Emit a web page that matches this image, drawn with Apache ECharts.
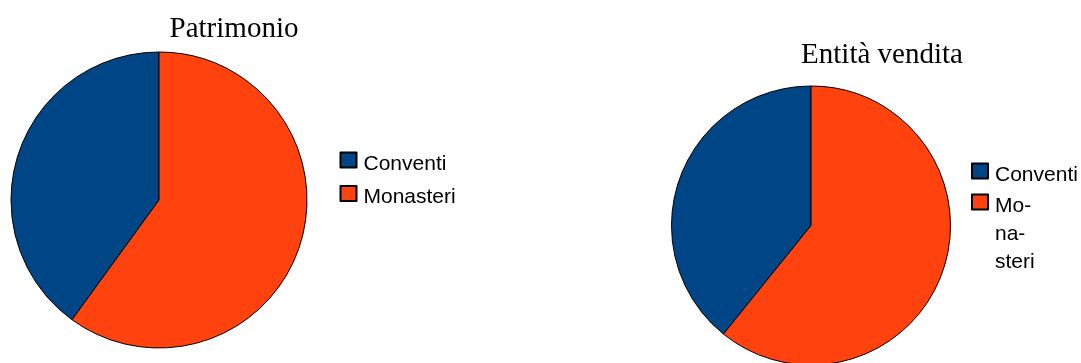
<!DOCTYPE html>
<html>
<head>
<meta charset="utf-8">
<script src="https://cdn.jsdelivr.net/npm/echarts@6/dist/echarts.min.js"></script>
<style>
  html, body { margin: 0; padding: 0; background: #ffffff; }
  #chart { width: 1081px; height: 363px; }
</style>
</head>
<body>
<div id="chart"></div>
<script>
// Categories shared by both pies
const categories = ['Conventi', 'Monasteri'];
// Share of property (left pie) and share of sales (right pie), in percent
const patrimonioValues = [40, 60];
const venditaValues = [39.2, 60.8];
const titles = ['Patrimonio', 'Entità vendita'];
const colors = ['#004586', '#ff420e'];

const chart = echarts.init(document.getElementById('chart'), null, { renderer: 'canvas' });

function pieData(values) {
  return categories.map((name, i) => ({ name: name, value: values[i] }));
}

const titleStyle = { fontFamily: 'Liberation Serif', fontSize: 29, fontWeight: 'normal', color: '#000000' };
const legendText = { fontFamily: 'Liberation Sans', fontSize: 21, color: '#000000' };

// Legend swatch: a 16x15 square in the top-left of an 18x23 item box, so the
// label sits a little below the square's centre and a little further right.
const swatch = 'path://M0,0H16V15H0ZM18,23';
const swatchBox = { itemWidth: 18, itemHeight: 23, icon: swatch, symbolKeepAspect: false };
const wrapLine = 28;

const option = {
  backgroundColor: '#ffffff',
  animation: false,
  color: colors,
  title: [
    { text: titles[0], left: 234, top: 15, textAlign: 'center', padding: 0, textStyle: titleStyle },
    { text: titles[1], left: 882, top: 41, textAlign: 'center', padding: 0, textStyle: titleStyle }
  ],
  legend: [
    Object.assign({
      data: categories, orient: 'vertical', left: 339.5, top: 151.5, padding: 0, itemGap: 8.6,
      textStyle: legendText
    }, swatchBox),
    Object.assign({
      data: [categories[0]], orient: 'vertical', left: 971, top: 162.5, padding: 0,
      textStyle: legendText
    }, swatchBox),
    Object.assign({
      // narrow column: the long label breaks over three lines; two empty leading
      // lines keep the first line level with the swatch (legend text is centred)
      data: [categories[1]], orient: 'vertical', left: 971, padding: 0,
      formatter: () => '\n\nMo-\nna-\nsteri',
      textStyle: Object.assign({}, legendText, { lineHeight: wrapLine })
    }, swatchBox)
  ],
  series: [
    {
      name: titles[0], type: 'pie', center: [159, 200], radius: 148,
      startAngle: 90, clockwise: false, label: { show: false }, labelLine: { show: false },
      itemStyle: { borderColor: '#000000', borderWidth: 1 },
      emphasis: { disabled: true },
      data: pieData(patrimonioValues)
    },
    {
      name: titles[1], type: 'pie', center: [811, 225.5], radius: 139.5,
      startAngle: 90, clockwise: false, label: { show: false }, labelLine: { show: false },
      itemStyle: { borderColor: '#000000', borderWidth: 1 },
      emphasis: { disabled: true },
      data: pieData(venditaValues)
    }
  ]
};

// Square of the wrapped legend item sits at y = 194.5; the five-line text
// block is centred on the item box, so the box top is 2.5 lines above its centre.
option.legend[2].top = 194.5 + 23 / 2 - 2.5 * wrapLine;

chart.setOption(option);
</script>
</body>
</html>
